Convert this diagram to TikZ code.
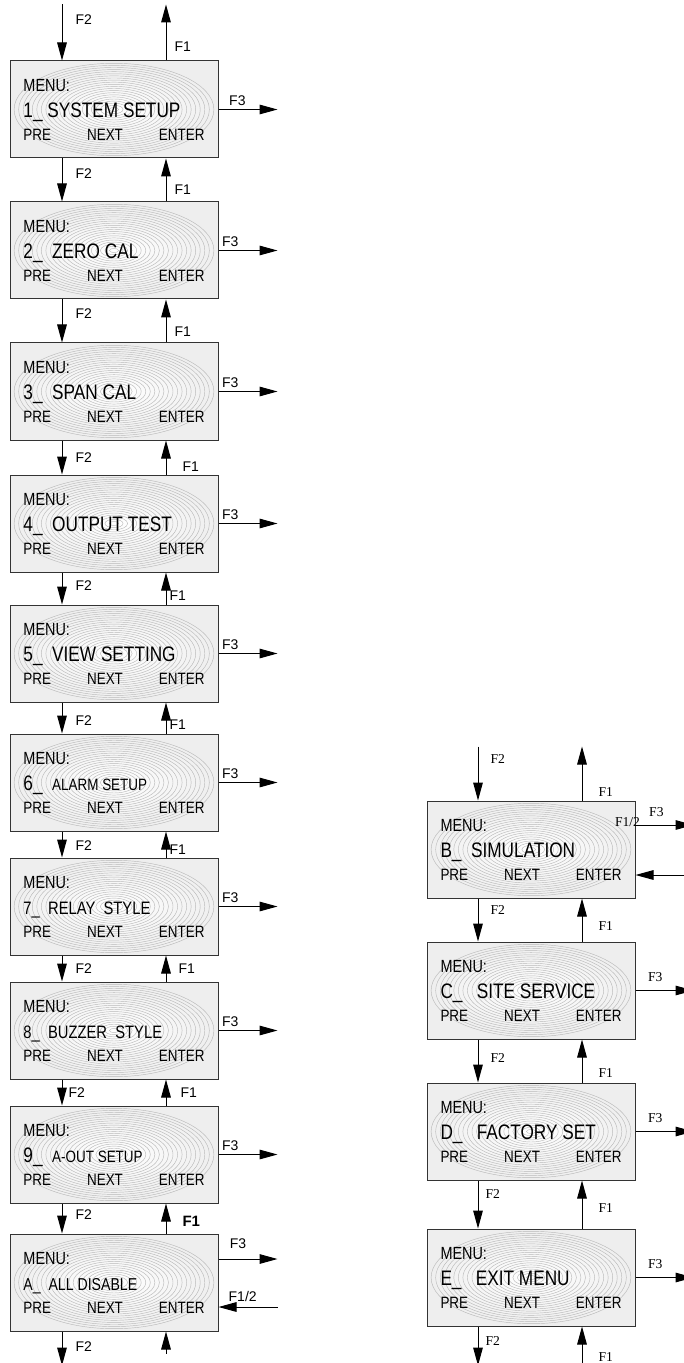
\documentclass[tikz,border=0pt]{standalone}
\usepackage{fontspec}
\setmainfont{Liberation Sans}
\newfontfamily\lcdfont[FakeStretch=0.82]{Liberation Sans}
\newfontfamily\keyfont{Liberation Serif}
\usetikzlibrary{arrows.meta,positioning}

% three display lines of one menu screen
\newcommand{\menutext}[1]{%
  \begin{minipage}{90.5pt}\lcdfont
    \fontsize{8.8}{10}\selectfont MENU:\par
    \fontsize{10.5}{13.25}\selectfont #1\par
    \fontsize{8.2}{11.25}\selectfont\makebox[\linewidth][s]{PRE\hfill NEXT\hfill ENTER}%
  \end{minipage}}

\begin{document}
\begin{tikzpicture}[
    x=0.5pt, y=-0.5pt,
    line width=0.5pt,
    >={Triangle[length=9pt,width=4.8pt]},
    menubox/.style={
        draw=black!80,
        fill=gray!13,
        minimum width=104pt,
        minimum height=48.5pt,
        inner sep=0pt,
        path picture={
            \shade[inner color=white, outer color=gray!13]
                (path picture bounding box.center) ellipse [x radius=50pt, y radius=23pt];
            \foreach \k in {1,...,22}
                \draw[gray!55, line width=0.22pt] (path picture bounding box.center)
                    ellipse [x radius={2.27pt*\k}, y radius={1.05pt*\k}];
        }
    },
    lbl/.style={font=\fontsize{7}{8}\selectfont, inner sep=1pt},
    klbl/.style={font=\keyfont\fontsize{6.8}{8}\selectfont, inner sep=1pt}
]
\useasboundingbox (0,0) rectangle (684,1363);

% left column
\node[menubox] (m1) at (114,109.5) {\menutext{1\_ SYSTEM SETUP}};
\node[menubox, below=21.5pt of m1] (m2) {\menutext{2\_\ \ ZERO CAL}};
\node[menubox, below=21.5pt of m2] (m3) {\menutext{3\_\ \ SPAN CAL}};
\node[menubox, below=17pt of m3] (m4) {\menutext{4\_\ \ OUTPUT TEST}};
\node[menubox, below=16pt of m4] (m5) {\menutext{5\_\ \ VIEW SETTING}};
\node[menubox, below=15.5pt of m5] (m6) {\menutext{6\_\ \ \fontsize{8.2}{13.25}\selectfont ALARM SETUP}};
\node[menubox, below=13pt of m6] (m7) {\menutext{\fontsize{9}{13.25}\selectfont 7\_\ \ RELAY\ \ STYLE}};
\node[menubox, below=13pt of m7] (m8) {\menutext{\fontsize{9}{13.25}\selectfont 8\_\ \ BUZZER\ \ STYLE}};
\node[menubox, below=13pt of m8] (m9) {\menutext{9\_\ \ \fontsize{8.2}{13.25}\selectfont A-OUT SETUP}};
\node[menubox, below=15pt of m9] (mA) {\menutext{\fontsize{8.6}{13.25}\selectfont A\_\ \ ALL DISABLE}};

% right column
\node[menubox] (mB) at (531,849.5) {\menutext{B\_\ \ SIMULATION}};
\node[menubox, below=21.5pt of mB] (mC) {\menutext{C\_\ \ \ SITE SERVICE}};
\node[menubox, below=21.5pt of mC] (mD) {\menutext{D\_\ \ \ FACTORY SET}};
\node[menubox, below=24pt of mD] (mE) {\menutext{E\_\ \ \ EXIT MENU}};

% free ends
\coordinate (m1-in) at ([xshift=-26pt, yshift=28pt]m1.north);
\coordinate (m1-up) at ([xshift=26pt, yshift=28pt]m1.north);
\coordinate (mA-dn) at ([xshift=-26pt, yshift=-17pt]mA.south);
\coordinate (mA-up) at ([xshift=26pt, yshift=-11pt]mA.south);
\coordinate (mA-f3) at ([xshift=29.5pt, yshift=11.75pt]mA.east);
\coordinate (mA-back) at ([xshift=29.5pt, yshift=-12.25pt]mA.east);
\coordinate[right=29.5pt of m1.east] (m1-f3);
\coordinate[right=29.5pt of m2.east] (m2-f3);
\coordinate[right=29.5pt of m3.east] (m3-f3);
\coordinate[right=29.5pt of m4.east] (m4-f3);
\coordinate[right=29.5pt of m5.east] (m5-f3);
\coordinate[right=29.5pt of m6.east] (m6-f3);
\coordinate[right=29.5pt of m7.east] (m7-f3);
\coordinate[right=29.5pt of m8.east] (m8-f3);
\coordinate[right=29.5pt of m9.east] (m9-f3);

\coordinate (mB-in) at ([xshift=-26.5pt, yshift=27pt]mB.north);
\coordinate (mB-up) at ([xshift=25.5pt, yshift=27pt]mB.north);
\coordinate (mE-dn) at ([xshift=-26.5pt, yshift=-19.5pt]mE.south);
\coordinate (mE-up) at ([xshift=25.5pt, yshift=-22.5pt]mE.south);
\coordinate (mB-f3) at ([xshift=29pt, yshift=12.25pt]mB.east);
\coordinate (mB-back) at ([xshift=29pt, yshift=-12.75pt]mB.east);
\coordinate[right=29pt of mC.east] (mC-f3);
\coordinate[right=29pt of mD.east] (mD-f3);
\coordinate[right=29pt of mE.east] (mE-f3);

% left column: F2 down, F1 up
\draw[->] (m1-in) -- node[lbl, pos=0.27, right=5.5pt] {F2} ([xshift=-26pt]m1.north);
\draw[->] ([xshift=26pt]m1.north) -- node[lbl, pos=0.25, right=3pt] {F1} (m1-up);

\draw[->] ([xshift=-26pt]m1.south) -- node[lbl, pos=0.36, right=5.5pt] {F2} ([xshift=-26pt]m2.north);
\draw[->] ([xshift=26pt]m2.north) -- node[lbl, pos=0.28, right=3pt] {F1} ([xshift=26pt]m1.south);
\draw[->] ([xshift=-26pt]m2.south) -- node[lbl, pos=0.33, right=5.5pt] {F2} ([xshift=-26pt]m3.north);
\draw[->] ([xshift=26pt]m3.north) -- node[lbl, pos=0.24, right=3pt] {F1} ([xshift=26pt]m2.south);
\draw[->] ([xshift=-26pt]m3.south) -- node[lbl, pos=0.5, right=5.5pt] {F2} ([xshift=-26pt]m4.north);
\draw[->] ([xshift=26pt]m4.north) -- node[lbl, pos=0.24, right=7pt] {F1} ([xshift=26pt]m3.south);
\draw[->] ([xshift=-26pt]m4.south) -- node[lbl, pos=0.4, right=5.5pt] {F2} ([xshift=-26pt]m5.north);
\draw[->] ([xshift=26pt]m5.north) -- node[lbl, pos=0.28, right=0.5pt] {F1} ([xshift=26pt]m4.south);
\draw[->] ([xshift=-26pt]m5.south) -- node[lbl, pos=0.6, right=5.5pt] {F2} ([xshift=-26pt]m6.north);
\draw[->] ([xshift=26pt]m6.north) -- node[lbl, pos=0.3, right=0.5pt] {F1} ([xshift=26pt]m5.south);
\draw[->] ([xshift=-26pt]m6.south) -- node[lbl, pos=0.55, right=5.5pt] {F2} ([xshift=-26pt]m7.north);
\draw[->] ([xshift=26pt]m7.north) -- node[lbl, pos=0.3, right=0.5pt] {F1} ([xshift=26pt]m6.south);
\draw[->] ([xshift=-26pt]m7.south) -- node[lbl, pos=0.5, right=5.5pt] {F2} ([xshift=-26pt]m8.north);
\draw[->] ([xshift=26pt]m8.north) -- node[lbl, pos=0.5, right=5pt] {F1} ([xshift=26pt]m7.south);
\draw[->] ([xshift=-26pt]m8.south) -- node[lbl, pos=0.5, right=2pt] {F2} ([xshift=-26pt]m9.north);
\draw[->] ([xshift=26pt]m9.north) -- node[lbl, pos=0.5, right=6pt] {F1} ([xshift=26pt]m8.south);
\draw[->] ([xshift=-26pt]m9.south) -- node[lbl, pos=0.37, right=5.5pt] {F2} ([xshift=-26pt]mA.north);
\draw[->] ([xshift=26pt]mA.north) -- node[lbl, pos=0.4, right=7pt, font=\fontsize{7.5}{8}\selectfont\bfseries] {F1} ([xshift=26pt]m9.south);

\draw[->] ([xshift=-26pt]mA.south) -- node[lbl, pos=0.44, right=5.5pt] {F2} (mA-dn);
\draw[->] (mA-up) -- ([xshift=26pt]mA.south);

% left column: F3 out
\draw[->] (m1.east) -- node[lbl, pos=0.32, above=0.5pt] {F3} (m1-f3);
\draw[->] (m2.east) -- node[lbl, pos=0.2, above=0.5pt] {F3} (m2-f3);
\draw[->] (m3.east) -- node[lbl, pos=0.2, above=0.5pt] {F3} (m3-f3);
\draw[->] (m4.east) -- node[lbl, pos=0.2, above=0.5pt] {F3} (m4-f3);
\draw[->] (m5.east) -- node[lbl, pos=0.2, above=0.5pt] {F3} (m5-f3);
\draw[->] (m6.east) -- node[lbl, pos=0.2, above=0.5pt] {F3} (m6-f3);
\draw[->] (m7.east) -- node[lbl, pos=0.2, above=0.5pt] {F3} (m7-f3);
\draw[->] (m8.east) -- node[lbl, pos=0.2, above=0.5pt] {F3} (m8-f3);
\draw[->] (m9.east) -- node[lbl, pos=0.2, above=0.5pt] {F3} (m9-f3);
\draw[->] ([yshift=11.75pt]mA.east) -- node[lbl, pos=0.33, above=4pt] {F3} (mA-f3);
\draw[->] (mA-back) -- node[lbl, pos=0.59, above=1.5pt] {F1/2} ([yshift=-12.25pt]mA.east);

% right column: F2 down, F1 up
\draw[->] (mB-in) -- node[klbl, pos=0.24, right=5pt] {F2} ([xshift=-26.5pt]mB.north);
\draw[->] ([xshift=25.5pt]mB.north) -- node[klbl, pos=0.15, right=7pt] {F1} (mB-up);

\draw[->] ([xshift=-26.5pt]mB.south) -- node[klbl, pos=0.26, right=5pt] {F2} ([xshift=-26.5pt]mC.north);
\draw[->] ([xshift=25.5pt]mC.north) -- node[klbl, pos=0.37, right=7pt] {F1} ([xshift=25.5pt]mB.south);
\draw[->] ([xshift=-26.5pt]mC.south) -- node[klbl, pos=0.44, right=5pt] {F2} ([xshift=-26.5pt]mD.north);
\draw[->] ([xshift=25.5pt]mD.north) -- node[klbl, pos=0.21, right=7pt] {F1} ([xshift=25.5pt]mC.south);
\draw[->] ([xshift=-26.5pt]mD.south) -- node[klbl, pos=0.29, right=2.5pt] {F2} ([xshift=-26.5pt]mE.north);
\draw[->] ([xshift=25.5pt]mE.north) -- node[klbl, pos=0.42, right=7pt] {F1} ([xshift=25.5pt]mD.south);

\draw[->] ([xshift=-26.5pt]mE.south) -- node[klbl, pos=0.36, right=2.5pt] {F2} (mE-dn);
\draw[->] (mE-up) -- node[klbl, pos=0.33, right=7pt] {F1} ([xshift=25.5pt]mE.south);

% right column: F3 out
\draw[->] ([yshift=12.25pt]mB.east) -- node[klbl, pos=0.36, above=3pt] {F3}
    node[klbl, pos=0.0, above, xshift=-4pt, yshift=-2pt] {F1/2} (mB-f3);
\draw[->] (mB-back) -- ([yshift=-12.75pt]mB.east);
\draw[->] (mC.east) -- node[klbl, pos=0.34, above=3pt] {F3} (mC-f3);
\draw[->] (mD.east) -- node[klbl, pos=0.34, above=3pt] {F3} (mD-f3);
\draw[->] (mE.east) -- node[klbl, pos=0.34, above=3pt] {F3} (mE-f3);

\end{tikzpicture}
\end{document}
